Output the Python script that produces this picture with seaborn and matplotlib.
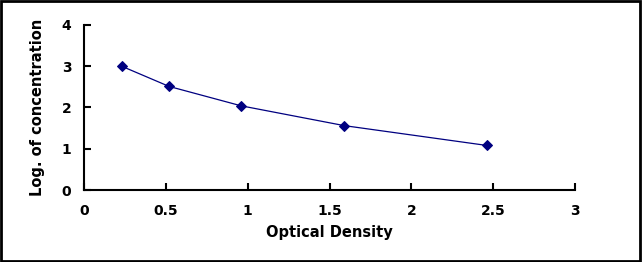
import matplotlib.pyplot as plt
import seaborn as sns
import pandas as pd

# Standard curve values
optical_density = [0.23, 0.52, 0.96, 1.59, 2.46]
log_concentration = [3.0, 2.51, 2.04, 1.56, 1.08]

x_ticks = [0, 0.5, 1, 1.5, 2, 2.5, 3]
x_labels = ["0", "0.5", "1", "1.5", "2", "2.5", "3"]
y_ticks = [0, 1, 2, 3, 4]

df = pd.DataFrame({"od": optical_density, "logc": log_concentration})

sns.set_style("ticks")
plt.rcParams["font.family"] = ["DejaVu Sans"]
plt.rcParams["text.color"] = "black"
plt.rcParams["axes.labelcolor"] = "black"

fig = plt.figure(figsize=(6.42, 2.62), dpi=100)
ax = fig.add_axes([0.1308, 0.2748, 0.765, 0.630])

sns.lineplot(data=df, x="od", y="logc", ax=ax, color="#000080",
             linewidth=0.9, marker="D", markersize=5,
             markerfacecolor="#000080", markeredgecolor="#000080")

ax.set_xlim(0, 3)
ax.set_ylim(0, 4)
ax.set_xticks(x_ticks)
ax.set_xticklabels(x_labels)
ax.set_yticks(y_ticks)
ax.tick_params(axis="both", direction="in", length=5, width=1.5,
               labelsize=10, colors="black")
ax.tick_params(axis="x", pad=10)
ax.tick_params(axis="y", pad=9)
for lbl in ax.get_xticklabels() + ax.get_yticklabels():
    lbl.set_fontweight("bold")

ax.set_xlabel("Optical Density", fontsize=10.5, fontweight="bold",
              color="black", labelpad=5)
ax.set_ylabel("Log. of concentration", fontsize=10.5, fontweight="bold",
              color="black", labelpad=12)

sns.despine(ax=ax)
for side in ["left", "bottom"]:
    ax.spines[side].set_linewidth(1.5)
    ax.spines[side].set_color("black")
ax.grid(False)

# black frame around the whole figure
border = plt.Rectangle((0.002, 0.004), 0.995, 0.991, transform=fig.transFigure,
                       fill=False, edgecolor="black", linewidth=2)
fig.patches.append(border)

fig.savefig("out.png", dpi=100)
plt.close()
